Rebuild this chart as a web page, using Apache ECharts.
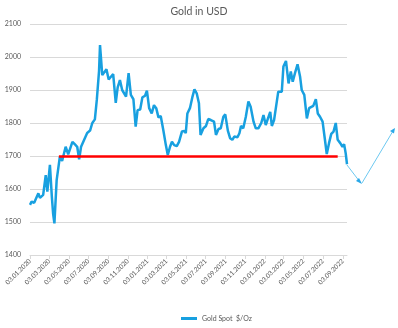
<!DOCTYPE html>
<html><head><meta charset="utf-8">
<script src="https://cdn.jsdelivr.net/npm/echarts@6/dist/echarts.min.js"></script>
<style>html,body{margin:0;padding:0;background:#fff}#c{width:398px;height:328px}</style>
</head><body><div id="c"></div>
<script>
var title = 'Gold in USD';
var seriesName = 'Gold Spot  $/Oz';
var startDate = '03.01.2020';
var endDate = '16.09.2022';
var priceDates = ['03.01.2020','08.01.2020','16.01.2020','29.01.2020','03.02.2020','13.02.2020','21.02.2020','26.02.2020','05.03.2020','11.03.2020','15.03.2020','19.03.2020','26.03.2020','31.03.2020','05.04.2020','12.04.2020','23.04.2020','01.05.2020','14.05.2020','22.05.2020','29.05.2020','04.06.2020','10.06.2020','19.06.2020','29.06.2020','08.07.2020','15.07.2020','23.07.2020','29.07.2020','05.08.2020','08.08.2020','15.08.2020','21.08.2020','28.08.2020','04.09.2020','11.09.2020','18.09.2020','26.09.2020','02.10.2020','09.10.2020','16.10.2020','22.10.2020','28.10.2020','05.11.2020','12.11.2020','20.11.2020','27.11.2020','03.12.2020','11.12.2020','18.12.2020','26.12.2020','01.01.2021','08.01.2021','16.01.2021','23.01.2021','30.01.2021','06.02.2021','13.02.2021','21.02.2021','01.03.2021','07.03.2021','14.03.2021','20.03.2021','27.03.2021','04.04.2021','11.04.2021','20.04.2021','28.04.2021','02.05.2021','07.05.2021','15.05.2021','23.05.2021','29.05.2021','05.06.2021','12.06.2021','17.06.2021','26.06.2021','04.07.2021','11.07.2021','19.07.2021','25.07.2021','29.07.2021','04.08.2021','12.08.2021','19.08.2021','27.08.2021','02.09.2021','10.09.2021','17.09.2021','24.09.2021','30.09.2021','10.10.2021','16.10.2021','21.10.2021','28.10.2021','05.11.2021','13.11.2021','20.11.2021','29.11.2021','06.12.2021','14.12.2021','23.12.2021','30.12.2021','06.01.2022','13.01.2022','20.01.2022','25.01.2022','01.02.2022','07.02.2022','14.02.2022','20.02.2022','25.02.2022','02.03.2022','10.03.2022','18.03.2022','25.03.2022','31.03.2022','07.04.2022','15.04.2022','23.04.2022','28.04.2022','06.05.2022','14.05.2022','21.05.2022','27.05.2022','03.06.2022','11.06.2022','17.06.2022','24.06.2022','02.07.2022','08.07.2022','15.07.2022','22.07.2022','29.07.2022','05.08.2022','12.08.2022','18.08.2022','26.08.2022','02.09.2022','07.09.2022','12.09.2022','16.09.2022'];
var prices = [1552,1562,1558,1587,1573,1582,1642,1592,1673,1577,1525,1496,1627,1627,1698,1685,1728,1705,1743,1735,1728,1690,1728,1748,1770,1777,1800,1811,1870,1958,2036,1945,1940,1963,1932,1940,1948,1861,1908,1930,1900,1902,1880,1951,1885,1872,1789,1839,1841,1878,1882,1898,1845,1829,1854,1845,1817,1821,1779,1733,1703,1728,1743,1733,1730,1743,1774,1776,1769,1829,1845,1880,1902,1890,1860,1764,1784,1791,1812,1809,1814,1804,1764,1782,1784,1819,1826,1777,1754,1749,1759,1757,1769,1791,1784,1819,1865,1849,1804,1784,1784,1800,1824,1794,1814,1834,1791,1809,1849,1895,1898,1895,1971,1988,1920,1956,1925,1951,1978,1940,1900,1885,1814,1845,1849,1852,1872,1829,1819,1804,1759,1706,1739,1767,1774,1800,1749,1739,1728,1736,1708,1675];
var supportLevel = 1700;
var supportFrom = '02.04.2020';
var supportTo = '18.08.2022';
var yTicks = [1400,1500,1600,1700,1800,1900,2000,2100];

function parseD(s){var p=s.split('.');return new Date(Date.UTC(+p[2],+p[1]-1,+p[0]));}
function fmt(d){var dd=('0'+d.getUTCDate()).slice(-2),mm=('0'+(d.getUTCMonth()+1)).slice(-2);return dd+'.'+mm+'.'+d.getUTCFullYear();}
var categories=[];
for(var t=parseD(startDate).getTime(), e=parseD(endDate).getTime(); t<=e; t+=86400000){categories.push(fmt(new Date(t)));}
function isTick(i,v){var p=v.split('.');return p[0]==='03' && (+p[1])%2===1;}

var chart = echarts.init(document.getElementById('c'));
var font = 'Lato, "DejaVu Sans", sans-serif';
chart.setOption({
  animation:false,
  title:{text:title,left:'center',top:1,textStyle:{fontSize:10.5,fontWeight:'normal',color:'#595959',fontFamily:font}},
  legend:{bottom:1,left:176,itemWidth:16,itemHeight:3,textStyle:{fontSize:7,color:'#595959',fontFamily:font},data:[{name:seriesName,icon:'rect'}]},
  grid:{left:30,right:51,top:24,bottom:73,containLabel:false},
  xAxis:{type:'category',data:categories,boundaryGap:false,
    axisLine:{show:true,lineStyle:{color:'#d9d9d9'}},
    axisTick:{show:true,interval:isTick,length:4,lineStyle:{color:'#d9d9d9'}},
    axisLabel:{interval:isTick,rotate:45,fontSize:6.5,color:'#595959',fontFamily:font,margin:5}},
  yAxis:{type:'value',min:yTicks[0],max:yTicks[yTicks.length-1],interval:100,
    axisLine:{show:false},axisTick:{show:false},
    axisLabel:{fontSize:7,color:'#595959',fontFamily:font,margin:9,formatter:function(v){return String(v);}},
    splitLine:{lineStyle:{color:'#d9d9d9',width:1}}},
  series:[{name:seriesName,type:'line',symbol:'none',
    data:priceDates.map(function(d,i){return [d,prices[i]];}),
    lineStyle:{color:'#18a0e0',width:2.5},itemStyle:{color:'#18a0e0'},
    markLine:{silent:true,symbol:['none','none'],label:{show:false},
      lineStyle:{color:'#ff0000',width:2.5,type:'solid'},
      data:[[{coord:[supportFrom,supportLevel]},{coord:[supportTo,supportLevel]}]]}}],
  graphic:[
    {type:'line',shape:{x1:347,y1:165,x2:360,y2:182},style:{stroke:'#6cc8f0',lineWidth:1}},
    {type:'polygon',shape:{points:[[362,184],[356,181],[359,178]]},style:{fill:'#2aa8e8'}},
    {type:'line',shape:{x1:362,y1:183,x2:393,y2:131},style:{stroke:'#6cc8f0',lineWidth:1}},
    {type:'polygon',shape:{points:[[395,128],[390,131],[394,133.5]]},style:{fill:'#2aa8e8'}}
  ]
});
</script></body></html>
